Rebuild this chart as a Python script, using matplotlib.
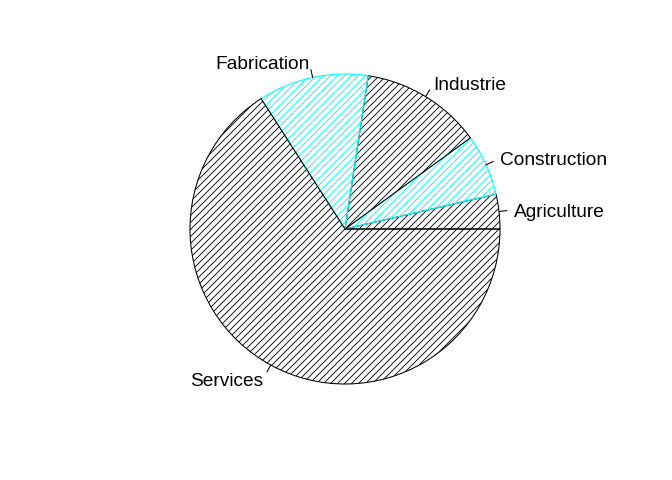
import numpy as np
import matplotlib
matplotlib.use("Agg")
import matplotlib.pyplot as plt

plt.rcParams['font.family'] = ['Liberation Sans', 'DejaVu Sans']
plt.rcParams['hatch.linewidth'] = 0.75

labels = ["Agriculture", "Construction", "Industrie", "Fabrication", "Services"]
values = [3.6, 6.4, 12.6, 11.5, 65.9]
colors = ["black", "cyan", "black", "cyan", "black"]

DPI = 84
fig = plt.figure(figsize=(672 / DPI, 480 / DPI), dpi=DPI)
ax = fig.add_axes([0, 0, 1, 1])
R = 155.0
cx, cy = 345.0, 251.0

wedges, texts = ax.pie(values, labels=labels, startangle=0, counterclock=True,
                       radius=1.0, labeldistance=1.1, frame=False,
                       textprops=dict(fontsize=16.4, color='black'))
ax.set_xlim(-cx / R, (672 - cx) / R)
ax.set_ylim(-cy / R, (480 - cy) / R)
ax.set_aspect('auto')
ax.axis('off')

for t in texts:
    x, y = t.get_position()
    t.set_position((x, y - 2.5 / R))

for w, c in zip(wedges, colors):
    w.set_facecolor('none')
    w.set_edgecolor(c)
    w.set_linewidth(0.9)
    w.set_hatch('////')

total = sum(values)
cum = np.cumsum([0] + values)
for i in range(len(values)):
    mid = np.deg2rad(360 * (cum[i] + cum[i + 1]) / 2 / total)
    ax.plot([np.cos(mid), 1.05 * np.cos(mid)], [np.sin(mid), 1.05 * np.sin(mid)],
            color='black', lw=0.9)

fig.savefig("out.png", dpi=DPI)
